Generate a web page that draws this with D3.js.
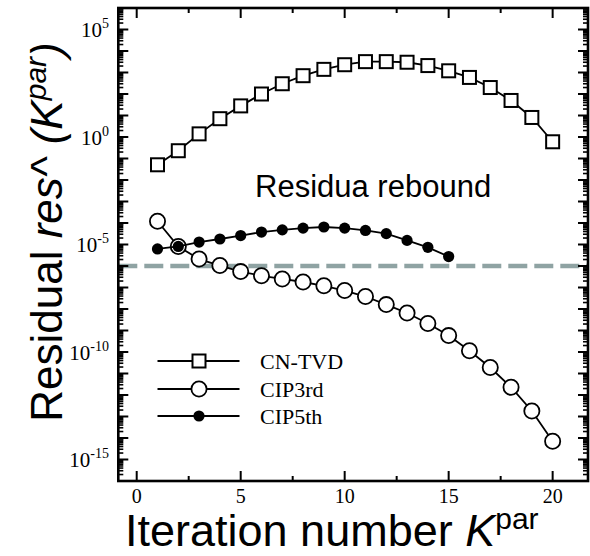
<!DOCTYPE html>
<html><head><meta charset="utf-8">
<script src="https://cdn.jsdelivr.net/npm/d3@7"></script>
<style>body{margin:0;background:#fff}svg{display:block}</style>
</head><body>
<svg id="c" width="590" height="556"></svg>
<script>
const iterations = [1,2,3,4,5,6,7,8,9,10,11,12,13,14,15,16,17,18,19,20];
const cnTvd = [5.1e-2,2.3e-1,1.4,7.1,2.8e1,1.0e2,3.0e2,7.1e2,1.4e3,2.3e3,3.2e3,3.2e3,3.0e3,2.1e3,1.2e3,5.9e2,2.0e2,5.0e1,8.1,6.0e-1];
const cip3rd = [1.2e-4,8.1e-6,2.1e-6,1.05e-6,5.5e-7,3.5e-7,2.5e-7,1.8e-7,1.2e-7,7.2e-8,3.8e-8,1.6e-8,6.5e-9,2.1e-9,5.8e-10,1.15e-10,1.9e-11,2.3e-12,1.8e-13,7.1e-15];
const cip5thIter = [1,2,3,4,5,6,7,8,9,10,11,12,13,14,15];
const cip5th = [6.2e-6,8.1e-6,1.3e-5,1.8e-5,2.6e-5,3.8e-5,4.8e-5,5.8e-5,6.5e-5,5.8e-5,4.5e-5,3.2e-5,1.55e-5,7.4e-6,2.75e-6];
const threshold = 1e-6;
const xTicks = [0,5,10,15,20];
const xMinorTicks = [2.5,7.5,12.5,17.5];
const yLabelExps = [5,0,-5,-10,-15];
const seriesNames = ["CN-TVD","CIP3rd","CIP5th"];

const svg = d3.select("#c");
const L=118.3, R=588, T=8, B=481;
const x = d3.scaleLinear().domain([-0.885,21.7]).range([L,R]);
const y = d3.scaleLog().domain([1e-16,1e6]).range([B,T]);

// threshold dashed line
svg.append("line").attr("x1",L).attr("x2",R)
  .attr("y1",y(threshold)).attr("y2",y(threshold))
  .attr("stroke","#8fa3a3").attr("stroke-width",4.5).attr("stroke-dasharray","19,7");

// ticks
const g = svg.append("g").attr("stroke","#000").attr("stroke-width",2);
xTicks.forEach(v=>{
  g.append("line").attr("x1",x(v)).attr("x2",x(v)).attr("y1",B).attr("y2",B-10);
  g.append("line").attr("x1",x(v)).attr("x2",x(v)).attr("y1",T).attr("y2",T+10);
});
xMinorTicks.forEach(v=>{
  g.append("line").attr("x1",x(v)).attr("x2",x(v)).attr("y1",B).attr("y2",B-5);
  g.append("line").attr("x1",x(v)).attr("x2",x(v)).attr("y1",T).attr("y2",T+5);
});
for(let e=-16;e<6;e++){
  for(let m=1;m<10;m++){
    const v = m*Math.pow(10,e);
    const yy = y(v);
    if(yy<T||yy>B) continue;
    const len = m===1?10:5;
    g.append("line").attr("x1",L).attr("x2",L+len).attr("y1",yy).attr("y2",yy).attr("stroke-width",m===1?2:1.6);
    g.append("line").attr("x1",R).attr("x2",R-len).attr("y1",yy).attr("y2",yy).attr("stroke-width",m===1?2:1.6);
  }
}
// frame
svg.append("rect").attr("x",L).attr("y",T).attr("width",R-L).attr("height",B-T)
  .attr("fill","none").attr("stroke","#000").attr("stroke-width",2.6);

// tick labels
const serif = "'Liberation Serif','Times New Roman',serif";
xTicks.forEach(v=>{
  svg.append("text").attr("x",x(v)).attr("y",503).attr("text-anchor","middle")
    .attr("font-family",serif).attr("font-size",20).text(v);
});
yLabelExps.forEach(e=>{
  const t = svg.append("text").attr("x",109).attr("y",y(Math.pow(10,e))+7.5).attr("text-anchor","end")
    .attr("font-family",serif).attr("font-size",21);
  t.append("tspan").text("10");
  t.append("tspan").attr("dy",-9).attr("font-size",14).text(e);
});

// series
const line = d3.line().x(d=>x(d[0])).y(d=>y(d[1]));
const d1 = iterations.map((k,i)=>[k,cnTvd[i]]);
const d2 = iterations.map((k,i)=>[k,cip3rd[i]]);
const d3s = cip5thIter.map((k,i)=>[k,cip5th[i]]);

function drawLine(d){
  svg.append("path").datum(d).attr("d",line).attr("fill","none").attr("stroke","#000").attr("stroke-width",1.8);
}
drawLine(d1);
svg.append("g").selectAll("rect").data(d1).join("rect")
  .attr("x",d=>x(d[0])-6.5).attr("y",d=>y(d[1])-6.5).attr("width",13).attr("height",13)
  .attr("fill","#fff").attr("stroke","#000").attr("stroke-width",2);
drawLine(d2);
svg.append("g").selectAll("circle").data(d2).join("circle")
  .attr("cx",d=>x(d[0])).attr("cy",d=>y(d[1])).attr("r",7.6)
  .attr("fill","#fff").attr("stroke","#000").attr("stroke-width",1.8);
drawLine(d3s);
svg.append("g").selectAll("circle").data(d3s).join("circle")
  .attr("cx",d=>x(d[0])).attr("cy",d=>y(d[1])).attr("r",5.6)
  .attr("fill","#000");

// legend
const legY = [361,389,416];
seriesNames.forEach((n,i)=>{
  svg.append("line").attr("x1",157.5).attr("x2",239.5).attr("y1",legY[i]).attr("y2",legY[i])
    .attr("stroke","#000").attr("stroke-width",1.8);
  if(i===0) svg.append("rect").attr("x",199-6.5).attr("y",legY[i]-6.5).attr("width",13).attr("height",13)
    .attr("fill","#fff").attr("stroke","#000").attr("stroke-width",2);
  if(i===1) svg.append("circle").attr("cx",199).attr("cy",legY[i]).attr("r",7.6)
    .attr("fill","#fff").attr("stroke","#000").attr("stroke-width",1.8);
  if(i===2) svg.append("circle").attr("cx",199).attr("cy",legY[i]).attr("r",5.6).attr("fill","#000");
  svg.append("text").attr("x",260).attr("y",legY[i]+7.5).attr("font-family",serif).attr("font-size",22).text(n);
});

// annotation
const sans = "'Liberation Sans',Arial,sans-serif";
svg.append("text").attr("x",255).attr("y",197).attr("font-family",sans).attr("font-size",31).text("Residua rebound");

// x title
const xt = svg.append("text").attr("x",125).attr("y",546).attr("font-family",sans).attr("font-size",45);
xt.append("tspan").text("Iteration number ");
xt.append("tspan").attr("font-style","italic").text("K");
xt.append("tspan").attr("dy",-17).attr("font-size",30).text("par");

// y title
const yt = svg.append("text").attr("transform","translate(62,232) rotate(-90)")
  .attr("text-anchor","middle").attr("font-family",sans).attr("font-size",44);
yt.append("tspan").text("Residual ");
yt.append("tspan").attr("font-style","italic").text("res^ (K");
yt.append("tspan").attr("font-style","italic").attr("dy",-16).attr("font-size",30).text("par");
yt.append("tspan").attr("font-style","italic").attr("dy",16).text(")");
</script>
</body></html>
